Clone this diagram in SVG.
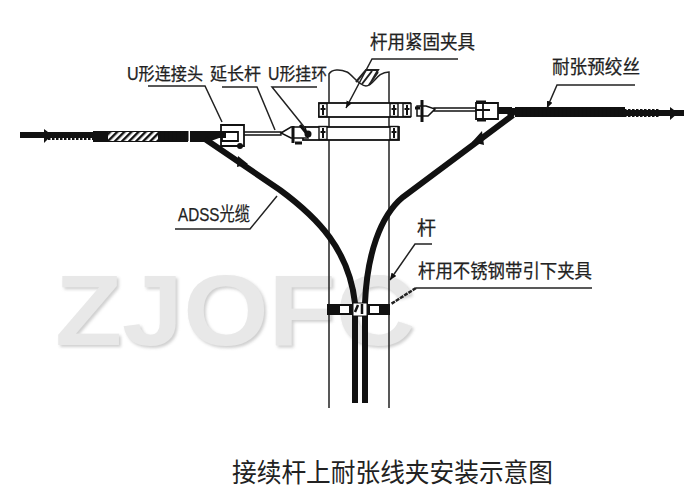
<svg xmlns="http://www.w3.org/2000/svg" width="700" height="500" viewBox="0 0 700 500">
<defs>
<pattern id="hatch" width="5" height="5" patternUnits="userSpaceOnUse" patternTransform="rotate(45)"><rect width="5" height="5" fill="#fff"/><rect width="2.400" height="5" fill="#111"/></pattern>
<g id="bolt"><rect x="-4" y="-6.500" width="8" height="13" fill="#fff" stroke="#111" stroke-width="1.400"/><path d="M0-5V5M-2.500-1H2.500" stroke="#111" stroke-width="2"/></g>
<marker id="tip" markerWidth="8" markerHeight="8" refX="7" refY="3" orient="auto" markerUnits="userSpaceOnUse"><path d="M0 0L7 3L0 6Z" fill="#111"/></marker>
<filter id="soft" x="-5%" y="-10%" width="110%" height="125%"><feDropShadow dx="2" dy="2" stdDeviation="1.500" flood-color="#cfcfcf"/></filter>
</defs>
<style>
text{font-family:"Liberation Sans","Noto Sans CJK SC",sans-serif;fill:#222}
.lab{font-size:19px;stroke:#222;stroke-width:.25}
.sm{font-size:17.500px}
.lead{fill:none;stroke:#222;stroke-width:1.500}
.cable{fill:none;stroke:#111;stroke-width:6;stroke-linecap:butt}
.ser{fill:none;stroke:#111;stroke-width:10;stroke-dasharray:2.500 1.500}
.hw{fill:#fff;stroke:#111;stroke-width:1.800}
.pole{fill:none;stroke:#222;stroke-width:1.500}
</style>
<rect width="700" height="500" fill="#fff"/>
<g id="watermark"><text x="55" y="345" font-size="100" font-weight="700" style="fill:#e8e8e8" filter="url(#soft)" textLength="360" lengthAdjust="spacingAndGlyphs">ZJOFC</text></g>
<g id="pole">
<path class="pole" d="M329 408V74C332 69 340 69 347 72C353 75 358 85 366 86C374 86 376 72 389 72V408"/>
<path d="M356 82L366 70H378L370 84M362 84L372 71M369 85L378 72" stroke="#222" stroke-width="2" fill="none"/>
</g>
<g id="upper-clamp">
<rect class="hw" x="319" y="103" width="91" height="14"/>
<use href="#bolt" x="323" y="110"/><use href="#bolt" x="394" y="110"/><use href="#bolt" x="407" y="110"/>
</g>
<g id="lower-clamp">
<rect class="hw" x="303" y="127" width="96" height="13"/>
<use href="#bolt" x="323" y="133"/><use href="#bolt" x="394" y="133"/>
</g>
<g id="connectors">
<path class="cable" d="M20 135H95"/>
<path class="ser" style="stroke-width:8" d="M48 136H95"/>
<rect x="93" y="131" width="95" height="11" fill="#111"/>
<rect x="108" y="132" width="50" height="9" fill="url(#hatch)"/>
<path class="ser" d="M158 136H204"/>
<path d="M190 131H222V137L208 142H190Z" fill="#111"/>
<path d="M205 139L280 190C318 218 349 250 355 303V403" fill="none" stroke="#111" stroke-width="6"/>
<path d="M513 115L403 197C380 216 367 255 365 303V403" fill="none" stroke="#111" stroke-width="6"/>
<path d="M505 108H520L514 116H508Z" fill="#111"/>
<rect x="515" y="107" width="110" height="10" fill="#111"/>
<path class="ser" d="M520 112H625" stroke-dasharray="3 1.500"/>
<path class="cable" d="M620 113H684"/>
<path class="ser" d="M620 113H660" style="stroke-width:8"/>
<path d="M44 129L52 135L44 143Z M238 156L248 164L237 167Z M482 131L484 145L472 142Z M670 107L678 113L670 120Z" fill="#111"/>
<path d="M241 132H281V135H241Z M434 108H476V111H434Z" fill="#fff" stroke="#111" stroke-width="1.300"/>
</g>
<g id="u-clevis-left">
<path class="hw" d="M221 125H244V146H221ZM222 132H238V141H222Z"/>
<path d="M213 133H226V138H213Z" fill="#111"/><circle cx="240" cy="146" r="3" fill="#111"/>
</g>
<g id="u-ring-left">
<path d="M281 133L291 127H305L308 138H291Z" fill="#fff" stroke="#111" stroke-width="1.500"/>
<path d="M293 126V143M300 125L308 135M295 143H302" stroke="#111" stroke-width="3" fill="none"/>
<circle cx="308" cy="134" r="3.500" fill="#111"/>
</g>
<g id="u-ring-right">
<path d="M417 106H426L435 109L428 116H417Z" fill="#fff" stroke="#111" stroke-width="1.500"/>
<path d="M422 100V122M415 108H420" stroke="#111" stroke-width="3" fill="none"/>
</g>
<g id="u-clevis-right">
<path class="hw" d="M476 103H498V119H476ZM483 103V119M476 110H490"/>
<path d="M476 102H486M477 120H486" stroke="#111" stroke-width="3"/>
<path d="M498 107H512V114H498Z" fill="#111"/>
</g>
<g id="drop-clamp">
<rect x="327" y="304" width="63" height="11" fill="#111"/>
<rect x="340" y="306" width="9" height="7" fill="#fff"/><rect x="370" y="306" width="9" height="7" fill="#fff"/>
<rect x="353" y="303" width="14" height="13" fill="#fff" stroke="#111"/>
<path d="M358 305L355 312M362 304V314" stroke="#111" stroke-width="2.500"/>
</g>
<g id="leaders">
<path class="lead" d="M148 86H205L222 122"/>
<path class="lead" d="M222 87H257L275 130"/>
<path class="lead" d="M317 87H272L305 128"/>
<path class="lead" d="M458 59H372L346 108" marker-end="url(#tip)"/>
<path class="lead" d="M635 85H557L547 108" marker-end="url(#tip)"/>
<path class="lead" d="M175 229H250L277 196"/>
<path class="lead" d="M432 244H415L390 280" marker-end="url(#tip)"/>
<path class="lead" d="M592 288H416"/>
<path class="lead" d="M416 288L391 304" style="stroke-width:2.500" stroke-dasharray="4 1"/>
</g>
<g id="labels">
<text class="lab sm" x="127" y="80" textLength="76" lengthAdjust="spacingAndGlyphs">U形连接头</text>
<text class="lab sm" x="210" y="80" textLength="51" lengthAdjust="spacingAndGlyphs">延长杆</text>
<text class="lab sm" x="268" y="80" textLength="59" lengthAdjust="spacingAndGlyphs">U形挂环</text>
<text class="lab" x="370" y="49" textLength="105" lengthAdjust="spacingAndGlyphs">杆用紧固夹具</text>
<text class="lab" x="552" y="74" textLength="88" lengthAdjust="spacingAndGlyphs">耐张预绞丝</text>
<text class="lab" x="178" y="221" textLength="72" lengthAdjust="spacingAndGlyphs">ADSS光缆</text>
<text class="lab" x="417" y="235">杆</text>
<text class="lab" x="418" y="278" textLength="174" lengthAdjust="spacingAndGlyphs">杆用不锈钢带引下夹具</text>
<text x="232" y="482" font-size="26" textLength="321" lengthAdjust="spacingAndGlyphs">接续杆上耐张线夹安装示意图</text>
</g>
</svg>
